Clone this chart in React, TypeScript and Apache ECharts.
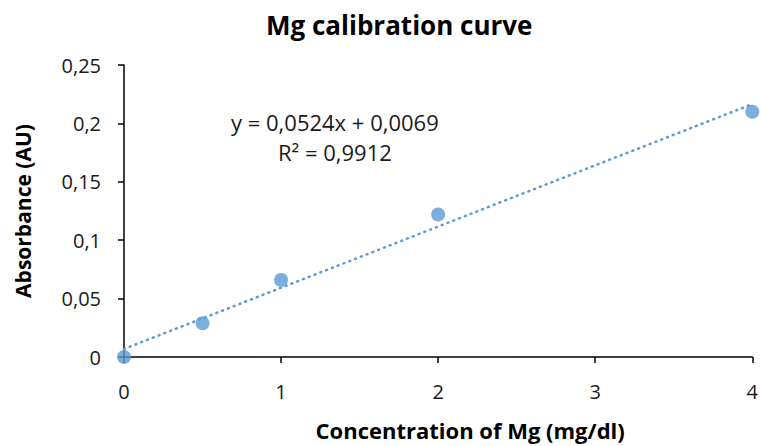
import React, { useEffect, useRef } from "react";
import * as echarts from "echarts";

const titleText = "Mg calibration curve";
const xName = "Concentration of Mg (mg/dl)";
const yName = "Absorbance (AU)";
const concentrations = [0, 0.5, 1, 2, 4];
const absorbances = [0, 0.029, 0.066, 0.122, 0.21];
const trendX = [0, 4];
const trendY = [0.0069, 0.2165];
const equationText = "y = 0,0524x + 0,0069";
const r2Text = "R² = 0,9912";

const FONT = "Open Sans";
const BLUE = "#5B9BD5";

export default function App() {
  const ref = useRef<HTMLDivElement>(null);
  useEffect(() => {
    document.body.style.margin = "0";
    if (!ref.current) return;
    const chart = echarts.init(ref.current, null, { renderer: "svg" });
    chart.setOption({
      animation: false,
      backgroundColor: "#ffffff",
      textStyle: { fontFamily: FONT },
      title: {
        text: titleText,
        left: 261,
        top: 7,
        textStyle: { fontFamily: FONT, fontWeight: "bold", fontSize: 26, color: "#000" },
      },
      grid: { left: 124, right: 5, top: 65, bottom: 87, containLabel: false },
      xAxis: {
        type: "value",
        min: 0,
        max: 4,
        interval: 1,
        name: xName,
        nameLocation: "middle",
        nameGap: 62,
        nameTextStyle: { fontFamily: FONT, fontWeight: "bold", fontSize: 22, color: "#000", padding: [0, 0, 0, 64] },
        axisLine: { show: true, onZero: false, lineStyle: { color: "#000", width: 1.5 } },
        axisTick: { show: true, inside: false, length: 6, lineStyle: { color: "#000", width: 1.5 } },
        axisLabel: { fontFamily: FONT, fontSize: 20, color: "#1a1a1a", margin: 24 },
        splitLine: { show: false },
      },
      yAxis: {
        type: "value",
        min: 0,
        max: 0.25,
        interval: 0.05,
        name: yName,
        nameLocation: "middle",
        nameGap: 91,
        nameTextStyle: { fontFamily: FONT, fontWeight: "bold", fontSize: 21, color: "#000" },
        axisLine: { show: true, lineStyle: { color: "#000", width: 1.5 } },
        axisTick: { show: true, inside: false, length: 6, lineStyle: { color: "#000", width: 1.5 } },
        axisLabel: {
          fontFamily: FONT,
          fontSize: 20,
          color: "#1a1a1a",
          margin: 23,
          formatter: (v: number) => String(+v.toFixed(4)).replace(".", ","),
        },
        splitLine: { show: false },
      },
      series: [
        {
          type: "line",
          data: trendX.map((x, i) => [x, trendY[i]]),
          showSymbol: false,
          symbol: "none",
          lineStyle: { color: BLUE, width: 2.6, type: [0.8, 5.4], cap: "round" },
          z: 1,
          silent: true,
        },
        {
          type: "scatter",
          data: concentrations.map((x, i) => [x, absorbances[i]]),
          symbol: "circle",
          symbolSize: 14,
          itemStyle: { color: BLUE },
          clip: false,
          z: 3,
        },
      ],
      graphic: [
        {
          type: "text",
          left: 231,
          top: 111,
          style: { text: equationText, fontFamily: FONT, fontSize: 22, fill: "#1a1a1a" },
        },
        {
          type: "text",
          left: 278,
          top: 141,
          style: { text: r2Text, fontFamily: FONT, fontSize: 22, fill: "#1a1a1a" },
        },
      ],
    });
    return () => chart.dispose();
  }, []);
  return <div ref={ref} style={{ width: 761, height: 446 }} />;
}
